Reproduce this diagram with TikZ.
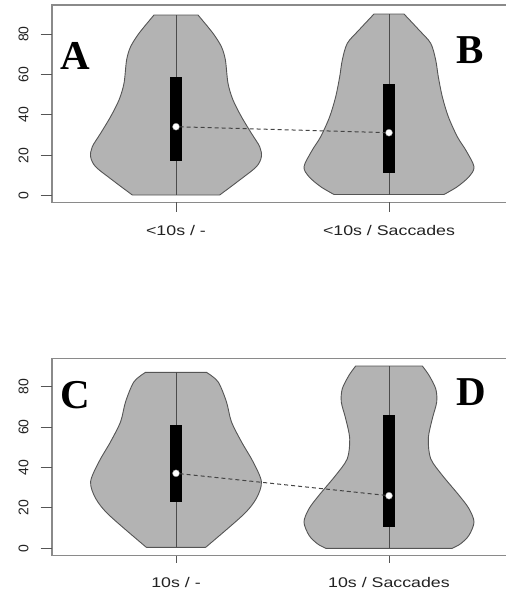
\documentclass[tikz,border=0pt]{standalone}
\usepackage{fontspec}
\setmainfont{Liberation Serif}
\newfontfamily\axisfont{Liberation Sans}
\definecolor{vfill}{HTML}{B3B3B3}
\definecolor{vline}{HTML}{555555}
\definecolor{framec}{HTML}{8A8A8A}
\definecolor{txtc}{HTML}{222222}
\tikzset{
  violin/.style={draw=vline, fill=vfill, line width=0.9pt, line join=round},
  midline/.style={draw=vline!90!black, line width=1pt},
  iqr/.style={fill=black},
  meddot/.style={circle, fill=white, draw=vline!70, line width=0.4pt, inner sep=0pt, minimum size=7pt},
  medlink/.style={draw=vline!80!black, line width=1pt, dash pattern=on 4pt off 3pt},
  frameline/.style={draw=framec, line width=1.4pt},
  tickline/.style={draw=vline, line width=0.9pt},
  ticklab/.style={font=\axisfont\fontsize{14}{14}\selectfont, text=txtc, rotate=90, inner sep=0pt},
  catlab/.style={font=\axisfont\fontsize{14}{14}\selectfont, text=txtc, xscale=1.27, inner sep=0pt},
  panellab/.style={font=\bfseries\fontsize{41}{41}\selectfont, text=black, inner sep=0pt},
}
\begin{document}
\begin{tikzpicture}[x=1pt, y=-1pt]
\useasboundingbox (0,0) rectangle (506,592);
\fill[white] (0,0) rectangle (506,592);
\clip (0,0) rectangle (506,592);

% ---------------- top panel ----------------
\draw[frameline] (520,5) -- (52,5) -- (52,202.3) -- (520,202.3);
\foreach \v/\yy in {0/195.7, 20/155.3, 40/114.9, 60/74.5, 80/34.0} {
  \draw[tickline] (40.7,\yy) -- (52,\yy);
  \node[ticklab] (ty\v) at (23.5,\yy) {\v};
}
% violin A (centre 176)
\draw[violin] plot[smooth, tension=0.5] coordinates {(198,15) (213,33.3) (221.4,46.7) (225.4,60) (228,83.3) (233,100) (241.4,116.7) (251.4,133.3) (259.7,146.7) (261.4,156.7) (256.4,166.7) (239.7,180) (219.7,195)}
  -- plot[smooth, tension=0.5] coordinates {(132.3,195) (112.3,180) (95.6,166.7) (90.6,156.7) (92.3,146.7) (100.6,133.3) (110.6,116.7) (119,100) (124,83.3) (126.6,60) (130.6,46.7) (139,33.3) (154,15)} -- cycle;
% violin B (centre 389)
\draw[violin] plot[smooth, tension=0.5] coordinates {(404,14) (419,30) (430.7,43.3) (435.7,60) (438.3,76.7) (442.3,96.7) (448.3,116.7) (457.3,136.7) (465.7,150) (474,166.7) (469,176.7) (457.3,186.7) (444,194.5)}
  -- plot[smooth, tension=0.5] coordinates {(334,194.5) (320.7,186.7) (309,176.7) (304,166.7) (312.3,150) (320.7,136.7) (329.7,116.7) (335.7,96.7) (339.7,76.7) (342.3,60) (347.3,43.3) (359,30) (374,14)} -- cycle;
\draw[midline] (176,15) -- (176,195);
\draw[midline] (389,14) -- (389,194.5);
\fill[iqr] (170.2,77.3) rectangle (181.8,161);
\fill[iqr] (383.2,84) rectangle (394.8,173.3);
\node[meddot] (mA) at (176,126.7) {};
\node[meddot] (mB) at (389,132.7) {};
\draw[medlink] (mA) -- (mB);
\draw[tickline] (176,202.3) -- (176,211.5);
\draw[tickline] (389,202.3) -- (389,211.5);
\node[catlab] (xA) at (176,230) {<10s / -};
\node[catlab] (xB) at (389,230) {<10s / Saccades};
\node[panellab] (lA) at (75.5,55.8) {A};
\node[panellab] (lB) at (469.8,50) {B};

% ---------------- bottom panel ----------------
\draw[frameline] (520,358.5) -- (52,358.5) -- (52,555.5) -- (520,555.5);
\foreach \v/\yy in {0/548.3, 20/507.9, 40/467.5, 60/427.1, 80/386.7} {
  \draw[tickline] (40.7,\yy) -- (52,\yy);
  \node[ticklab] (by\v) at (23.5,\yy) {\v};
}
% violin C (centre 176)
\draw[violin] plot[smooth, tension=0.5] coordinates {(206.4,372.3) (218,381.7) (226.4,401.7) (231.4,421.7) (241.4,441.7) (253,461.7) (261.4,481.7) (256.4,498.3) (243,515) (205.7,547.3)}
  -- plot[smooth, tension=0.5] coordinates {(146.3,547.3) (109,515) (95.6,498.3) (90.6,481.7) (99,461.7) (110.6,441.7) (120.6,421.7) (125.6,401.7) (134,381.7) (145.6,372.3)} -- cycle;
% violin D (centre 389)
\draw[violin] plot[smooth, tension=0.5] coordinates {(422.3,366) (429,375.3) (435.7,388.7) (436.7,402) (432.3,418.7) (428.3,438.7) (430.7,458.7) (442.3,475.3) (459,495.3) (469,508.7) (474,522) (469,535.3) (460.7,543.7) (452.3,548.3)}
  -- plot[smooth, tension=0.5] coordinates {(325.7,548.3) (317.3,543.7) (309,535.3) (304,522) (309,508.7) (319,495.3) (335.7,475.3) (347.3,458.7) (349.7,438.7) (345.7,418.7) (341.3,402) (342.3,388.7) (349,375.3) (355.7,366)} -- cycle;
\draw[midline] (176,372.3) -- (176,547.3);
\draw[midline] (389,366) -- (389,548.3);
\fill[iqr] (170.2,425) rectangle (181.8,501.7);
\fill[iqr] (383.2,415) rectangle (394.8,526.7);
\node[meddot] (mC) at (176,473.3) {};
\node[meddot] (mD) at (389,495.7) {};
\draw[medlink] (mC) -- (mD);
\draw[tickline] (176,555.5) -- (176,563);
\draw[tickline] (389,555.5) -- (389,563);
\node[catlab] (xC) at (176,582) {10s / -};
\node[catlab] (xD) at (389,582) {10s / Saccades};
\node[panellab] (lC) at (75.8,395.3) {C};
\node[panellab] (lD) at (470.8,392) {D};
\end{tikzpicture}
\end{document}
